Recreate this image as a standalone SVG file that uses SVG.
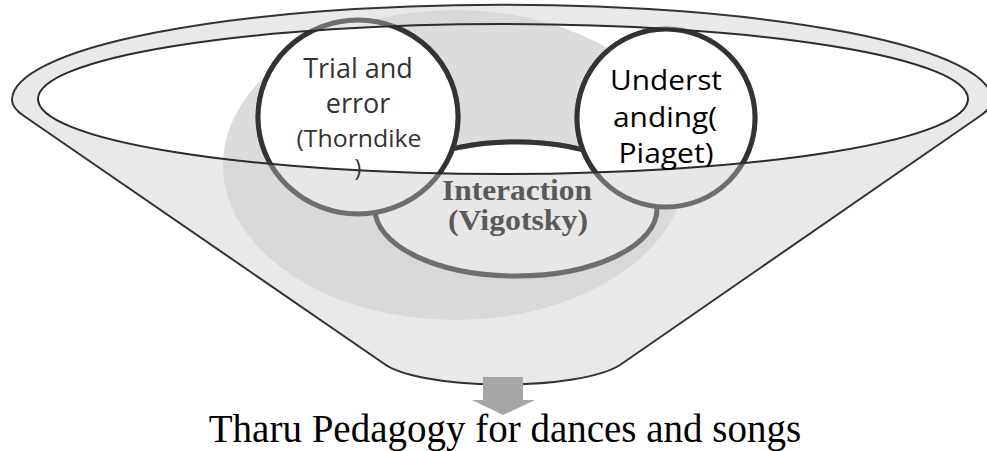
<svg xmlns="http://www.w3.org/2000/svg" width="987" height="451" viewBox="0 0 987 451">
<style>
.outer{stroke-width:5}
.dark{fill:#ffffff;stroke:#333333;stroke-width:5}
.lite{fill:#e7e7e7;stroke:#6e6e6e;stroke-width:5}
.sans{font-family:"Open Sans","DejaVu Sans",sans-serif;text-anchor:middle}
.serif{font-family:"Liberation Serif","Times New Roman",serif;text-anchor:middle}
</style>
<defs>
<clipPath id="inner"><ellipse cx="503" cy="99" rx="465" ry="75"/></clipPath>
</defs>
<g id="funnel">
<path d="M383,363 L24,116 Q12,108 12,100 A488 95 0 0 1 992,100 Q992,108 980,116 L620,365 A125 30 0 0 1 383,363 Z" fill="#e9e9e9" stroke="#333333" stroke-width="2"/>
<ellipse cx="503" cy="99" rx="465" ry="75" fill="#ffffff"/>
<ellipse cx="455" cy="165" rx="232" ry="155" fill="#d6d6d6" opacity="0.85"/>
</g>
<g id="node-interaction">
<ellipse class="lite" cx="516" cy="209" rx="141" ry="67"/>
<ellipse class="dark" cx="516" cy="209" rx="141" ry="67" clip-path="url(#inner)"/>
</g>
<g id="node-trial">
<ellipse class="lite" cx="358" cy="117" rx="100" ry="97"/>
<ellipse class="dark" cx="358" cy="117" rx="100" ry="97" clip-path="url(#inner)"/>
</g>
<g id="node-understanding">
<ellipse class="lite" cx="666" cy="118" rx="89" ry="89"/>
<ellipse class="dark" cx="666" cy="118" rx="89" ry="89" clip-path="url(#inner)"/>
</g>
<g id="rim">
<ellipse cx="503" cy="99" rx="465" ry="75" fill="none" stroke="#2b2b2b" stroke-width="2"/>
</g>
<g id="connectors">
<polygon points="483,377 523,377 523,400 535,400 503,415 472,400 483,400" fill="#a6a6a6"/>
</g>
<g id="labels">
<g fill="#333333" class="sans">
<text x="358" y="78" font-size="27">Trial and</text>
<text x="358" y="113" font-size="27">error</text>
<text x="359" y="147" font-size="23" textLength="125" lengthAdjust="spacingAndGlyphs">(Thorndike</text>
<text x="358" y="176" font-size="23">)</text>
</g>
<g fill="#000000" class="sans">
<text x="666" y="90" font-size="28" textLength="112" lengthAdjust="spacingAndGlyphs">Underst</text>
<text x="665" y="127" font-size="28" textLength="104" lengthAdjust="spacingAndGlyphs">anding(</text>
<text x="666" y="163" font-size="28" textLength="95" lengthAdjust="spacingAndGlyphs">Piaget)</text>
</g>
<g fill="#595959" class="serif" font-weight="bold">
<text x="517" y="200" font-size="29" textLength="150" lengthAdjust="spacingAndGlyphs">Interaction</text>
<text x="518" y="230" font-size="29" textLength="140" lengthAdjust="spacingAndGlyphs">(Vigotsky)</text>
</g>
<text class="serif" x="505" y="442" font-size="39" fill="#000000">Tharu Pedagogy for dances and songs</text>
</g>
</svg>
